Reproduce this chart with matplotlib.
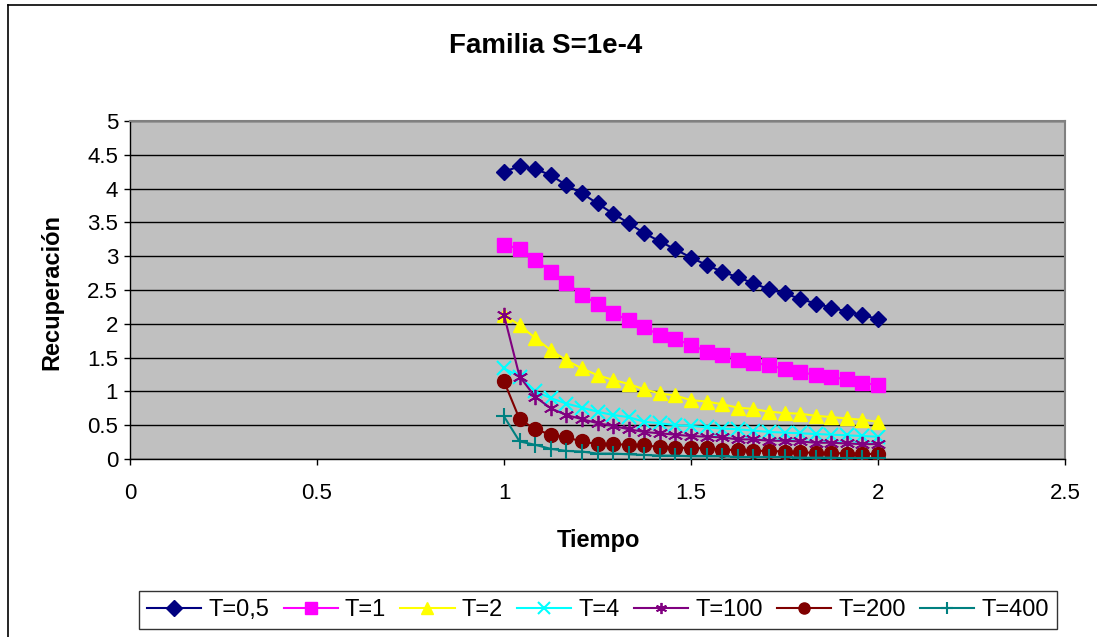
import numpy as np
import matplotlib
matplotlib.use("Agg")
import matplotlib.pyplot as plt
from matplotlib.lines import Line2D

plt.rcParams['font.family'] = ['Liberation Sans', 'DejaVu Sans']

tiempo = [1 + i / 24 for i in range(25)]

t_05 = [4.25, 4.33, 4.29, 4.20, 4.05, 3.93, 3.78, 3.63, 3.49, 3.34, 3.22, 3.10, 2.98,
        2.87, 2.77, 2.69, 2.60, 2.51, 2.45, 2.37, 2.30, 2.24, 2.18, 2.13, 2.07]
t_1 = [3.17, 3.11, 2.95, 2.77, 2.61, 2.43, 2.29, 2.16, 2.05, 1.95, 1.83, 1.77, 1.69,
       1.59, 1.54, 1.47, 1.42, 1.39, 1.33, 1.29, 1.24, 1.21, 1.18, 1.13, 1.09]
t_2 = [2.13, 1.98, 1.79, 1.61, 1.46, 1.34, 1.24, 1.17, 1.11, 1.03, 0.97, 0.94, 0.87,
       0.85, 0.81, 0.76, 0.74, 0.70, 0.68, 0.67, 0.64, 0.62, 0.60, 0.58, 0.55]
t_4 = [1.34, 1.22, 1.00, 0.90, 0.82, 0.76, 0.70, 0.65, 0.62, 0.55, 0.53, 0.50, 0.49,
       0.47, 0.45, 0.44, 0.42, 0.40, 0.39, 0.38, 0.37, 0.36, 0.35, 0.34, 0.33]
t_100 = [2.13, 1.22, 0.92, 0.75, 0.65, 0.59, 0.53, 0.49, 0.44, 0.40, 0.38, 0.36, 0.34,
         0.33, 0.32, 0.29, 0.29, 0.27, 0.27, 0.26, 0.24, 0.24, 0.23, 0.22, 0.22]
t_200 = [1.15, 0.59, 0.44, 0.36, 0.32, 0.26, 0.22, 0.22, 0.21, 0.20, 0.18, 0.17, 0.16,
         0.16, 0.14, 0.13, 0.12, 0.12, 0.11, 0.10, 0.09, 0.09, 0.08, 0.08, 0.07]
t_400 = [0.63, 0.26, 0.21, 0.15, 0.12, 0.11, 0.08, 0.08, 0.07, 0.06, 0.05, 0.05, 0.04,
         0.04, 0.04, 0.03, 0.03, 0.03, 0.03, 0.02, 0.02, 0.02, 0.01, 0.01, 0.01]

labels = ['T=0,5', 'T=1', 'T=2', 'T=4', 'T=100', 'T=200', 'T=400']
series = [t_05, t_1, t_2, t_4, t_100, t_200, t_400]
colors = ['#000080', '#FF00FF', '#FFFF00', '#00FFFF', '#800080', '#800000', '#008080']
markers = ['D', 's', '^', 'x', (6, 2, 0), 'o', '+']
msizes = [8.5, 9.5, 10, 10, 11, 10, 11]
mews = [1, 1, 1, 1.5, 1.3, 1, 1.5]

W, H = 1097, 637
fig = plt.figure(figsize=(W / 100, H / 100), dpi=100)
ax = fig.add_axes([130 / W, 1 - 459 / H, 935 / W, 338 / H])
ax.set_facecolor('#C0C0C0')

for y, lab, c, m, ms, mew in zip(series, labels, colors, markers, msizes, mews):
    ax.plot(tiempo, y, color=c, marker=m, markersize=ms, markeredgewidth=mew,
            markeredgecolor=c, markerfacecolor=c, linewidth=1.5, label=lab, zorder=3)

ax.set_xlim(0, 2.5)
ax.set_ylim(0, 5)
ax.set_xticks([0, 0.5, 1, 1.5, 2, 2.5])
ax.set_xticklabels(['0', '0.5', '1', '1.5', '2', '2.5'])
ax.set_yticks([0, 0.5, 1, 1.5, 2, 2.5, 3, 3.5, 4, 4.5, 5])
ax.set_yticklabels(['0', '0.5', '1', '1.5', '2', '2.5', '3', '3.5', '4', '4.5', '5'])
ax.yaxis.grid(True, color='black', linewidth=1)
ax.set_axisbelow(True)
ax.tick_params(axis='both', direction='out', length=4.5, width=1, labelsize=16, color='black')
ax.tick_params(axis='y', pad=4)
ax.tick_params(axis='x', pad=13)
for s in ['left', 'bottom']:
    ax.spines[s].set_color('black')
    ax.spines[s].set_linewidth(1)
for s in ['top', 'right']:
    ax.spines[s].set_color('#808080')
    ax.spines[s].set_linewidth(1.5)

fig.text(546 / W, 1 - 46 / H, 'Familia S=1e-4', ha='center', va='center',
         fontsize=20, fontweight='bold')
fig.text(598 / W, 1 - 540 / H, 'Tiempo', ha='center', va='center',
         fontsize=17, fontweight='bold')
fig.text(52 / W, 1 - 292 / H, 'Recuperación', ha='center', va='center',
         fontsize=17, fontweight='bold', rotation=90)

# chart border (top and left visible)
fig.add_artist(Line2D([8 / W, 1.0], [1 - 5 / H, 1 - 5 / H], transform=fig.transFigure,
                      color='black', linewidth=1.2))
fig.add_artist(Line2D([8 / W, 8 / W], [0, 1 - 5 / H], transform=fig.transFigure,
                      color='black', linewidth=1.2))

leg = fig.legend(loc='center', bbox_to_anchor=(598 / W, 1 - 610 / H), ncol=7,
                 frameon=True, fancybox=False, fontsize=17, handlelength=2.3,
                 columnspacing=0.6, handletextpad=0.3, borderpad=0.35,
                 borderaxespad=0)
leg.get_frame().set_edgecolor('black')
leg.get_frame().set_linewidth(1)
for h in leg.legend_handles:
    h.set_markersize(8)

fig.savefig('out.png', dpi=100)
